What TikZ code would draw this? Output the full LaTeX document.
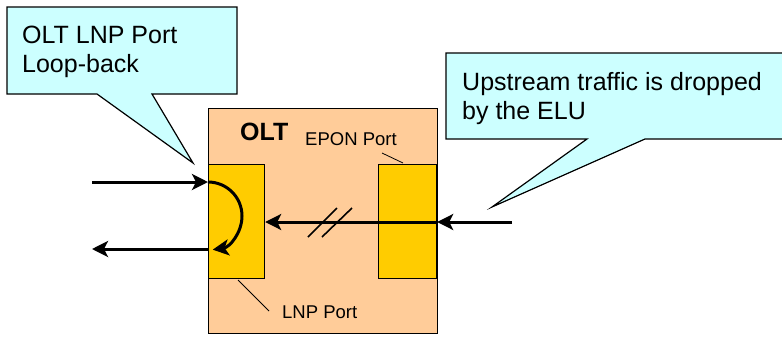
\documentclass[tikz,border=0pt]{standalone}
\usepackage{fontspec}
\setmainfont{Liberation Sans}
\usetikzlibrary{arrows.meta}
\definecolor{calloutfill}{HTML}{CCFFFF}
\definecolor{oltfill}{HTML}{FFCC99}
\definecolor{portfill}{HTML}{FFCC00}
\begin{document}
\begin{tikzpicture}[x=1pt,y=-1pt,
  callout/.style={draw=black,line width=1.2pt,fill=calloutfill,line join=miter},
  box/.style={draw=black,line width=1.2pt,inner sep=0pt},
  bigtext/.style={font=\fontsize{25}{29}\selectfont,anchor=base west,inner sep=0pt},
  smalltext/.style={font=\fontsize{18.5}{22}\selectfont,anchor=base west,inner sep=0pt},
  flow/.style={line width=3pt,-{Stealth[length=16pt,width=16pt,inset=4pt]}},
  leader/.style={line width=0.8pt}]
\useasboundingbox (0,0) rectangle (782,338);
\clip (0,0) rectangle (782,338);
% OLT box and ports
\node[box,fill=oltfill,minimum width=229pt,minimum height=225pt,anchor=north west] (olt) at (208,108) {};
\node[box,fill=portfill,minimum width=56pt,minimum height=114pt,anchor=north west] (lnp) at (208,164) {};
\node[box,fill=portfill,minimum width=58pt,minimum height=114pt,anchor=north west] (epon) at (378,164) {};
\node[bigtext,font=\fontsize{25}{29}\selectfont\bfseries] (oltlabel) at (240,140) {OLT};
\node[smalltext] (eponlabel) at (305,145) {EPON Port};
\node[smalltext] (lnplabel) at (282,318) {LNP Port};
% leader lines
\coordinate (eponlead) at (382,153);
\coordinate (lnplead) at (269,311);
\draw[leader] (eponlead) -- (403,163);
\draw[leader] (238,280) -- (lnplead);
% callout 1
\coordinate (c1tip) at (193,163);
\draw[callout] (7,7) -- (237,7) -- (237,94) -- (152,94) -- (c1tip) -- (97,94) -- (7,94) -- cycle;
\node[bigtext] (c1a) at (22,43) {OLT LNP Port};
\node[bigtext] (c1b) at (22,72) {Loop-back};
% callout 2
\coordinate (c2tip) at (492,207);
\draw[callout] (446,53) -- (800,53) -- (800,139) -- (645,139) -- (c2tip) -- (587,139) -- (446,139) -- cycle;
\node[bigtext] (c2a) at (462,90) {Upstream traffic is dropped};
\node[bigtext] (c2b) at (462,119) {by the ELU};
% flows
\coordinate (inL) at (92,182);
\coordinate (outL) at (92,249);
\coordinate (upR) at (512,222);
\draw[flow] (inL) -- (lnp.west |- inL);
\draw[flow] (lnp.west |- outL) -- (outL);
\draw[flow] (lnp.west |- inL) arc[start angle=90,end angle=-82,radius=34pt];
\draw[flow] (upR) -- (epon.east |- upR);
\draw[flow] (epon.east |- upR) -- (lnp.east |- upR);
% break marks
\draw[line width=1.6pt] (308,237) -- (337,208);
\draw[line width=1.6pt] (322,237) -- (352,208);
\end{tikzpicture}
\end{document}
